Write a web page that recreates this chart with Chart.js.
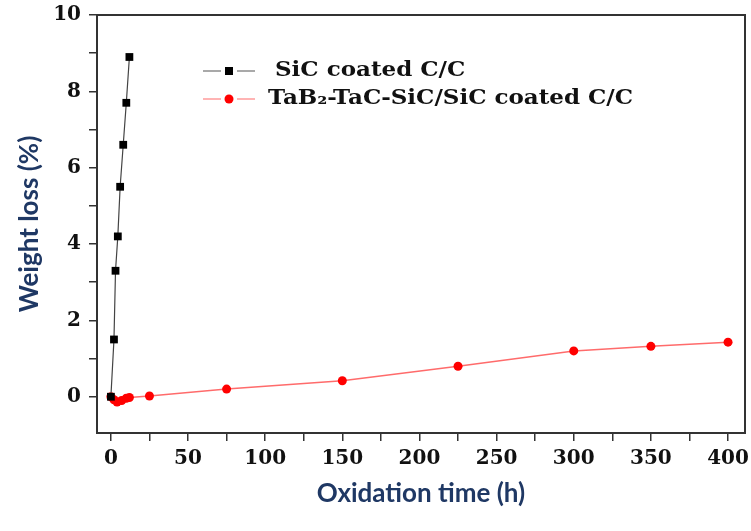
<!DOCTYPE html>
<html>
<head>
<meta charset="utf-8">
<script src="https://cdn.jsdelivr.net/npm/chart.js@4.4.1/dist/chart.umd.min.js"></script>
<style>
  html, body { margin: 0; padding: 0; background: #fff; }
</style>
</head>
<body>
<canvas id="myChart" width="751" height="531"></canvas>
<script>
// SiC coated C/C
const sicTime = [0, 2, 3, 4.5, 6, 8, 10, 12]
const sicLoss = [0, 1.5, 3.3, 4.2, 5.5, 6.6, 7.7, 8.9]

// TaB2-TaC-SiC/SiC coated C/C
const tabTime = [0, 2, 4, 7, 10, 12, 25, 75, 150, 225, 300, 350, 400]
const tabLoss = [0, -0.08, -0.14, -0.1, -0.04, -0.02, 0.02, 0.2, 0.42, 0.8, 1.2, 1.32, 1.43]

const xTicks = [0, 25, 50, 75, 100, 125, 150, 175, 200, 225, 250, 275, 300, 325, 350, 375, 400]
const yTicks = [0, 1, 2, 3, 4, 5, 6, 7, 8, 9, 10]

const seriesNames = ["SiC coated C/C", "TaB\u2082-TaC-SiC/SiC coated C/C"]

function pairs(xs, ys){
    return xs.map((x, i) => ({x: x, y: ys[i]}))
}

const tickFont = {family: "'DejaVu Serif', serif", weight: 'bold', size: 20}
const titleFont = {family: "Lato, 'Liberation Sans', sans-serif", weight: 'bold', size: 26}
const axisColor = '#333'
const titleColor = '#1f3864'

// box round the plot and the legend inside it
const framePlugin = {
    id: 'frame',
    afterDatasetsDraw(chart){
        const ctx = chart.ctx
        const a = chart.chartArea
        ctx.save()
        ctx.strokeStyle = axisColor
        ctx.lineWidth = 2
        ctx.strokeRect(a.left, a.top, a.right - a.left, a.bottom - a.top)

        const rows = [
            {y: 71, line: '#555', fill: '#000', shape: 'rect', textX: 275},
            {y: 99, line: '#ff6b6b', fill: '#ff0000', shape: 'circle', textX: 268}
        ]
        rows.forEach((r, i) => {
            ctx.strokeStyle = r.line
            ctx.lineWidth = 1.2
            ctx.beginPath()
            ctx.moveTo(203, r.y); ctx.lineTo(221, r.y)
            ctx.moveTo(237, r.y); ctx.lineTo(255, r.y)
            ctx.stroke()
            ctx.fillStyle = r.fill
            if (r.shape === 'rect'){
                ctx.fillRect(225, r.y - 4, 8, 8)
            } else {
                ctx.beginPath()
                ctx.arc(229, r.y, 4.5, 0, Math.PI * 2)
                ctx.fill()
            }
            // text in the source is a bit stretched sideways
            ctx.save()
            ctx.translate(r.textX, r.y)
            ctx.scale(1.15, 1)
            ctx.fillStyle = '#111'
            ctx.font = "bold 20px 'DejaVu Serif', serif"
            ctx.textBaseline = 'middle'
            ctx.fillText(seriesNames[i], 0, 0)
            ctx.restore()
        })
        ctx.restore()
    }
}

var ctx = document.getElementById('myChart').getContext('2d')

var myChart = new Chart(ctx, {
    type: 'scatter',
    data: {
        datasets: [
            {
                label: seriesNames[0],
                data: pairs(sicTime, sicLoss),
                showLine: true,
                borderColor: '#444',
                borderWidth: 1.2,
                backgroundColor: '#000',
                pointStyle: 'rect',
                pointRadius: 5.5,
                pointBorderWidth: 0
            },
            {
                label: seriesNames[1],
                data: pairs(tabTime, tabLoss),
                showLine: true,
                borderColor: '#ff6b6b',
                borderWidth: 1.5,
                backgroundColor: '#ff0000',
                pointStyle: 'circle',
                pointRadius: 4.5,
                pointBorderWidth: 0
            }
        ]
    },
    options: {
        responsive: false,
        animation: false,
        devicePixelRatio: 1,
        layout: {padding: {top: 15, right: 6, left: 0, bottom: 0}},
        plugins: {
            legend: {display: false},
            tooltip: {enabled: false}
        },
        scales: {
            x: {
                type: 'linear',
                min: -9,
                max: 411,
                afterBuildTicks: (s) => { s.ticks = xTicks.map(v => ({value: v})) },
                afterFit: (s) => { s.height = 98; s.paddingRight = 0; s.paddingLeft = 0 },
                border: {display: true, color: axisColor, width: 2},
                grid: {drawOnChartArea: false, drawTicks: true, tickLength: 8, color: axisColor, lineWidth: 1.5},
                ticks: {
                    font: tickFont,
                    color: '#111',
                    padding: 6,
                    maxRotation: 0,
                    autoSkip: false,
                    callback: (v) => v % 50 === 0 ? v : ''
                },
                title: {
                    display: true,
                    text: 'Oxidation time (h)',
                    font: titleFont,
                    color: titleColor,
                    padding: {top: 0, bottom: 22}
                }
            },
            y: {
                type: 'linear',
                min: -0.95,
                max: 10,
                afterBuildTicks: (s) => { s.ticks = yTicks.map(v => ({value: v})) },
                afterFit: (s) => { s.width = 97; s.paddingTop = 0; s.paddingBottom = 0 },
                border: {display: true, color: axisColor, width: 2},
                grid: {drawOnChartArea: false, drawTicks: true, tickLength: 8, color: axisColor, lineWidth: 1.5},
                ticks: {
                    font: tickFont,
                    color: '#111',
                    padding: 8,
                    autoSkip: false,
                    callback: (v) => v % 2 === 0 ? v : ''
                },
                title: {
                    display: true,
                    text: 'Weight loss (%)',
                    font: titleFont,
                    color: titleColor,
                    padding: {top: 14, bottom: 0}
                }
            }
        }
    },
    plugins: [framePlugin]
})
myChart.update()
</script>
</body>
</html>
